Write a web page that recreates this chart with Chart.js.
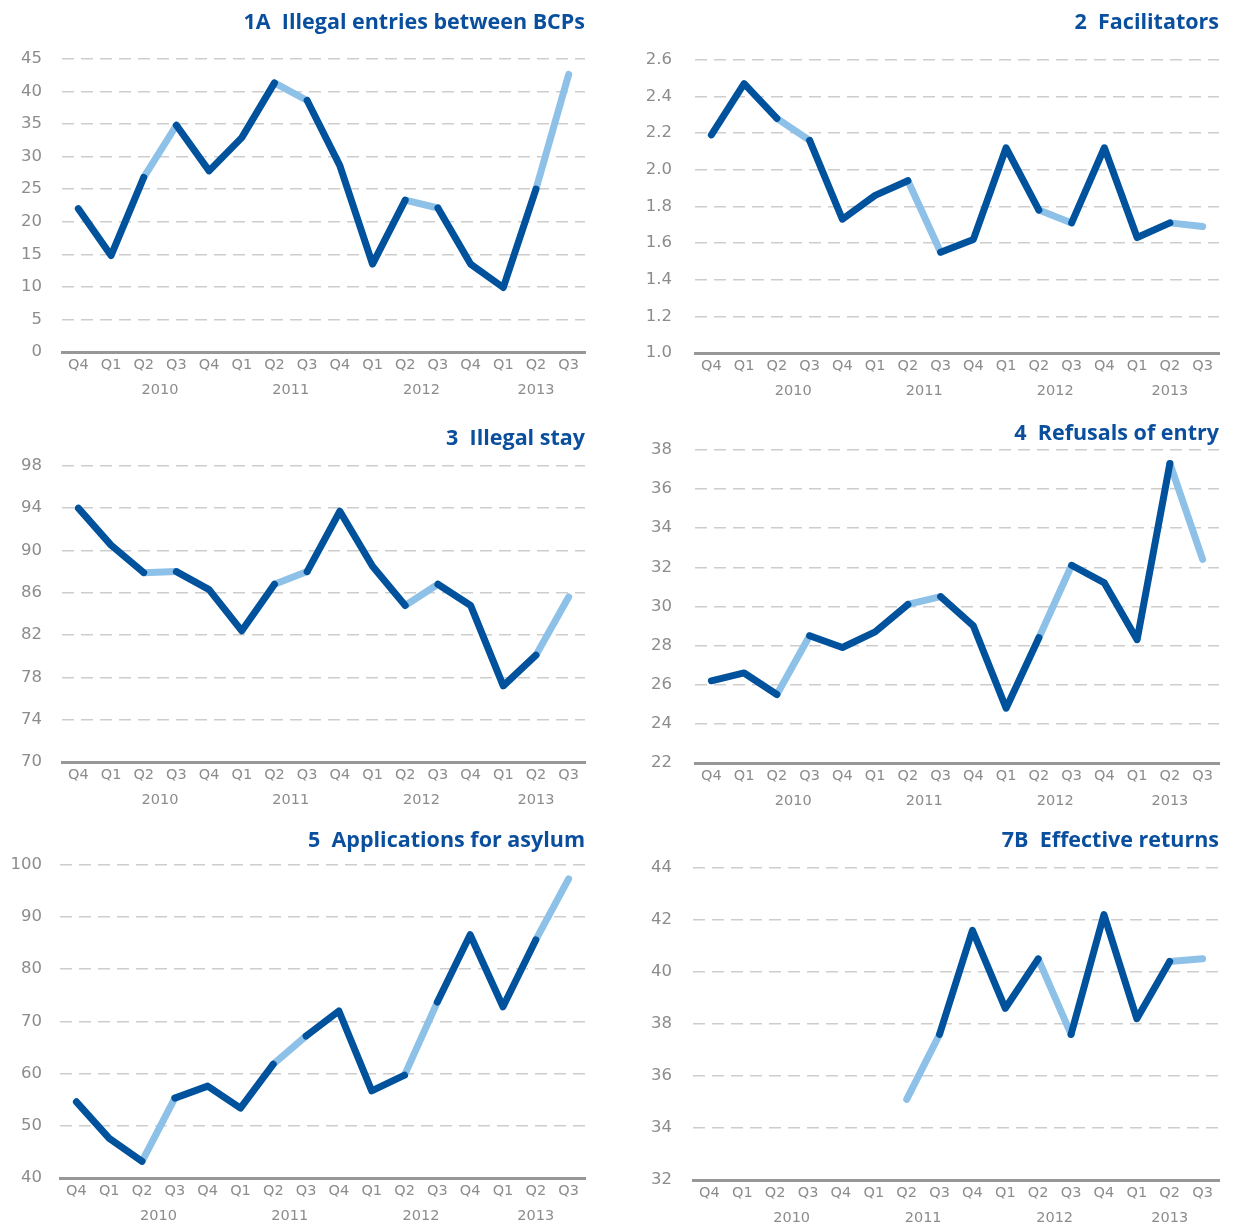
<!DOCTYPE html>
<html>
<head>
<meta charset="utf-8">
<script src="https://cdn.jsdelivr.net/npm/chart.js@4/dist/chart.umd.min.js"></script>
<style>
  html, body { margin: 0; padding: 0; background: #fff; }
  body { width: 1234px; height: 1228px; position: relative; overflow: hidden; }
  .panel { position: absolute; }
</style>
</head>
<body>
<script>
// quarters Q4 2009 .. Q3 2013
var quarters = ['Q4','Q1','Q2','Q3','Q4','Q1','Q2','Q3','Q4','Q1','Q2','Q3','Q4','Q1','Q2','Q3'];
var quarterYears = [2009,2010,2010,2010,2010,2011,2011,2011,2011,2012,2012,2012,2012,2013,2013,2013];
var yearLabels = ['2010','2011','2012','2013'];

var titles = [
  '1A  Illegal entries between BCPs',
  '2  Facilitators',
  '3  Illegal stay',
  '4  Refusals of entry',
  '5  Applications for asylum',
  '7B  Effective returns'
];

var illegalEntries = [22.0, 14.8, 26.8, 34.8, 27.8, 32.9, 41.3, 38.6, 28.6, 13.5, 23.3, 22.1, 13.5, 9.9, 25.0, 42.6];
var facilitators   = [2.19, 2.47, 2.28, 2.16, 1.73, 1.86, 1.94, 1.55, 1.62, 2.12, 1.78, 1.71, 2.12, 1.63, 1.71, 1.69];
var illegalStay    = [94.0, 90.5, 87.9, 88.0, 86.3, 82.4, 86.8, 88.0, 93.7, 88.5, 84.8, 86.8, 84.8, 77.2, 80.1, 85.6];
var refusals       = [26.2, 26.6, 25.5, 28.5, 27.9, 28.7, 30.1, 30.5, 29.0, 24.8, 28.4, 32.1, 31.2, 28.3, 37.3, 32.4];
var asylum         = [54.6, 47.6, 43.2, 55.3, 57.6, 53.4, 61.8, 67.2, 72.0, 56.7, 59.7, 73.7, 86.6, 72.8, 85.6, 97.3];
var returns        = [null, null, null, null, null, null, 35.1, 37.6, 41.6, 38.6, 40.5, 37.6, 42.2, 38.2, 40.4, 40.5];

// y axis: min, max, step, decimals
var entriesAxis = [0, 45, 5, 0];
var facilitatorsAxis = [1.0, 2.6, 0.2, 1];
var stayAxis = [70, 98, 4, 0];
var refusalsAxis = [22, 38, 2, 0];
var asylumAxis = [40, 100, 10, 0];
var returnsAxis = [32, 44, 2, 0];

var DARK = '#00529c';
var LIGHT = '#8ec1e8';
var GREY = '#8c8c8c';
var TICK_FONT = "'DejaVu Sans', Verdana, sans-serif";

// centre of each year's quarters on the category scale
var yearCenters = yearLabels.map(function (y) {
  var idx = [];
  quarterYears.forEach(function (q, i) { if (String(q) === y) idx.push(i); });
  return (idx[0] + idx[idx.length - 1]) / 2;
});

function isSummer(ctx) { return quarters[ctx.p1DataIndex] === 'Q3'; }

function makeChart(p) {
  var div = document.createElement('div');
  div.className = 'panel';
  div.style.left = p.left + 'px';
  div.style.top = p.top + 'px';
  div.style.width = p.width + 'px';
  div.style.height = p.height + 'px';
  var canvas = document.createElement('canvas');
  canvas.width = p.width;
  canvas.height = p.height;
  div.appendChild(canvas);
  document.body.appendChild(div);

  var ax = p.axis;
  new Chart(canvas, {
    type: 'line',
    data: {
      labels: quarters,
      datasets: [
        {
          data: p.data, order: 0, borderWidth: 7, pointRadius: 0,
          borderCapStyle: 'round', borderJoinStyle: 'round', borderColor: DARK,
          segment: { borderColor: function (ctx) { return isSummer(ctx) ? 'rgba(0,0,0,0)' : DARK; } }
        },
        {
          data: p.data, order: 1, borderWidth: 7, pointRadius: 0,
          borderCapStyle: 'round', borderJoinStyle: 'round', borderColor: LIGHT,
          segment: { borderColor: function (ctx) { return isSummer(ctx) ? LIGHT : 'rgba(0,0,0,0)'; } }
        }
      ]
    },
    options: {
      responsive: false,
      animation: false,
      layout: { padding: { left: 0, right: p.padRight, top: 0, bottom: 0 } },
      plugins: {
        legend: { display: false },
        tooltip: { enabled: false },
        title: {
          display: true, text: p.title, align: 'end', color: '#0a4f9e',
          font: { family: "'Open Sans', sans-serif", weight: 'bold', size: 21.5 },
          padding: { top: p.titleTop, bottom: p.titleBottom }
        }
      },
      scales: {
        x: {
          type: 'category', offset: true, weight: 0,
          grid: { display: false, drawTicks: false },
          border: { display: true, color: '#979797', width: 3 },
          ticks: { color: GREY, font: { family: TICK_FONT, size: 14.5 }, padding: 5, autoSkip: false, maxRotation: 0 },
          afterFit: function (s) { s.height = 26; }
        },
        year: {
          type: 'linear', position: 'bottom', weight: 1, min: -0.5, max: 15.5,
          grid: { display: false, drawTicks: false },
          border: { display: false },
          ticks: {
            color: GREY, font: { family: TICK_FONT, size: 14.5 }, padding: 4, autoSkip: false, maxRotation: 0,
            callback: function (v) { var i = yearCenters.indexOf(v); return i < 0 ? '' : yearLabels[i]; }
          },
          afterBuildTicks: function (s) { s.ticks = yearCenters.map(function (v) { return { value: v }; }); },
          afterFit: function (s) { s.height = 24; }
        },
        y: {
          min: ax[0], max: ax[1],
          grid: { color: '#cdcdcd', lineWidth: 1.5, drawTicks: false },
          border: { display: false, dash: [12, 7] },
          ticks: {
            stepSize: ax[2], color: GREY, padding: p.yPad,
            font: { family: TICK_FONT, size: 16.5 },
            callback: function (v) { return Number(v).toFixed(ax[3]); }
          },
          afterFit: function (s) { s.width = p.yWidth; }
        }
      }
    }
  });
}

makeChart({ title: titles[0], data: illegalEntries, axis: entriesAxis,
  left: 0, top: 0, width: 595, height: 402, padRight: 10, yWidth: 62, yPad: 20, titleTop: 10, titleBottom: 23 });
makeChart({ title: titles[1], data: facilitators, axis: facilitatorsAxis,
  left: 620, top: 0, width: 614, height: 403, padRight: 15, yWidth: 75, yPad: 23, titleTop: 10, titleBottom: 24 });
makeChart({ title: titles[2], data: illegalStay, axis: stayAxis,
  left: 0, top: 410, width: 595, height: 402, padRight: 10, yWidth: 62, yPad: 20, titleTop: 16, titleBottom: 14 });
makeChart({ title: titles[3], data: refusals, axis: refusalsAxis,
  left: 620, top: 410, width: 614, height: 403, padRight: 15, yWidth: 75, yPad: 23, titleTop: 11, titleBottom: 3 });
makeChart({ title: titles[4], data: asylum, axis: asylumAxis,
  left: 0, top: 815, width: 595, height: 413, padRight: 10, yWidth: 60, yPad: 18, titleTop: 13, titleBottom: 11 });
makeChart({ title: titles[5], data: returns, axis: returnsAxis,
  left: 620, top: 813, width: 614, height: 417, padRight: 15, yWidth: 73, yPad: 21, titleTop: 15, titleBottom: 14 });
</script>
</body>
</html>
